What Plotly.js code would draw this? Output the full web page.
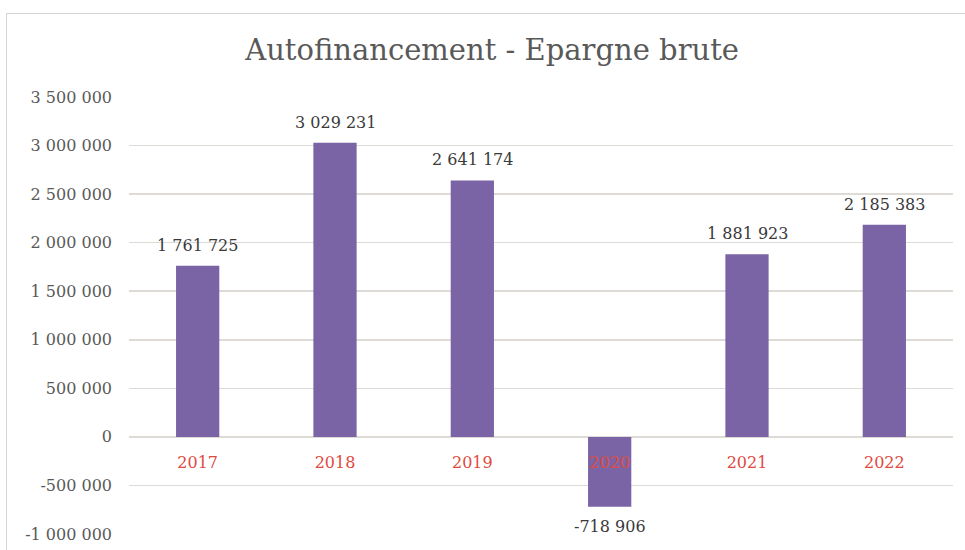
<!DOCTYPE html>
<html><head><meta charset="utf-8">
<script src="https://cdn.plot.ly/plotly-3.0.1.min.js"></script>
<style>
html,body{margin:0;padding:0;background:#fff;}
#frame{position:absolute;left:6px;top:13px;width:980px;height:560px;border-top:1.5px solid #d8d4cf;border-left:1.5px solid #d8d4cf;}
#chart{position:absolute;left:0;top:0;width:965px;height:550px;}
</style>
</head><body>
<div id="frame"></div>
<div id="chart"></div>
<script>
const years = ["2017","2018","2019","2020","2021","2022"];
const values = [1761725, 3029231, 2641174, -718906, 1881923, 2185383];
const tickVals = [-1000000,-500000,0,500000,1000000,1500000,2000000,2500000,3000000,3500000];

const font = "DejaVu Serif, Liberation Serif, serif";
const yMin = -1000000, yMax = 3500000;

// French-style number format with space thousands and ASCII hyphen minus
function fmt(v) {
  const s = Math.abs(Math.round(v)).toString().replace(/\B(?=(\d{3})+(?!\d))/g, " ");
  return (v < 0 ? "-" : "") + s;
}

const trace = {
  type: "bar",
  x: years,
  y: values,
  marker: {color: "#7a64a6"},
  hoverinfo: "none"
};

const annotations = years.map((yr, i) => ({
  x: i, y: values[i], xref: "x", yref: "y",
  text: fmt(values[i]),
  showarrow: false,
  yanchor: values[i] >= 0 ? "bottom" : "top",
  yshift: values[i] >= 0 ? 9 : -8,
  font: {family: font, size: 16, color: "#3a3a3a"}
}));

const layout = {
  width: 965, height: 550,
  paper_bgcolor: "rgba(0,0,0,0)",
  plot_bgcolor: "rgba(0,0,0,0)",
  margin: {l: 129, r: 12, t: 97, b: 16},
  title: {text: "Autofinancement - Epargne brute", x: 0.51, xanchor: "center", y: 0.91, yanchor: "middle",
          font: {family: font, size: 29, color: "#595959"}},
  bargap: 0.685,
  showlegend: false,
  annotations: annotations,
  xaxis: {
    type: "category",
    range: [-0.5, years.length - 0.5],
    anchor: "free",
    position: (0 - yMin) / (yMax - yMin),
    showline: false, showgrid: false, zeroline: false,
    ticks: "", ticklen: 0,
    tickfont: {family: font, size: 16, color: "#e04a3f"},
    ticklabelstandoff: 14
  },
  yaxis: {
    range: [yMin, yMax],
    tickvals: tickVals,
    ticktext: tickVals.map(fmt),
    showgrid: true, gridcolor: "#dedad6", gridwidth: 1.5,
    zeroline: true, zerolinecolor: "#dedad6", zerolinewidth: 1.5,
    showline: false, ticks: "",
    tickfont: {family: font, size: 16, color: "#595959"},
    ticklabelstandoff: 16
  }
};

Plotly.newPlot("chart", [trace], layout, {staticPlot: true});
</script>
</body></html>
